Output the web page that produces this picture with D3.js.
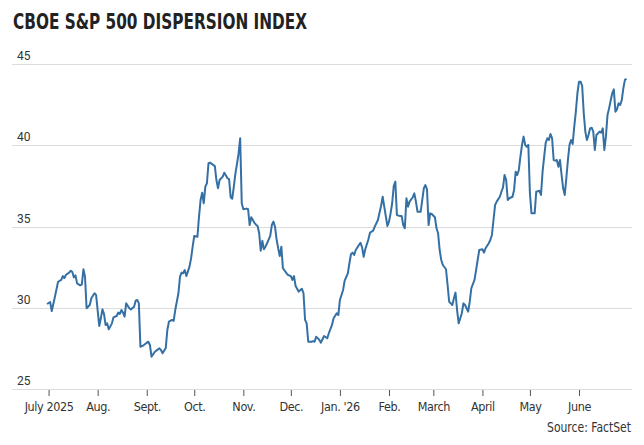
<!DOCTYPE html>
<html>
<head>
<meta charset="utf-8">
<script src="https://cdn.jsdelivr.net/npm/d3@7"></script>
<style>
    body { margin: 0; background: #fff; }
    svg { display: block; }
    .title { font-family: "DejaVu Sans Condensed", Roboto, sans-serif; font-weight: bold; font-size: 21px; fill: #222; }
    .ylabel { font-family: Roboto, "Liberation Sans", sans-serif; font-size: 12px; fill: #333; }
    .xlabel { font-family: "DejaVu Sans Condensed", Roboto, sans-serif; font-size: 12.5px; letter-spacing: -0.4px; fill: #333; }
    .source { font-family: "DejaVu Sans Condensed", Roboto, sans-serif; font-size: 14px; fill: #333; }
</style>
</head>
<body>
<svg id="chart"></svg>
<script>
var title = "CBOE S&P 500 DISPERSION INDEX";
var source = "Source: FactSet";

var yTicks = [25, 30, 35, 40, 45];

var monthTicks = ["2025-07-01", "2025-08-01", "2025-09-01", "2025-10-01", "2025-11-01", "2025-12-01",
    "2026-01-01", "2026-02-01", "2026-03-01", "2026-04-01", "2026-05-01", "2026-06-01"];
var monthLabels = ["July 2025", "Aug.", "Sept.", "Oct.", "Nov.", "Dec.",
    "Jan. '26", "Feb.", "March", "April", "May", "June"];

// readings, one per traced point
var dates = [
    "2025-06-30", "2025-07-02", "2025-07-03", "2025-07-05", "2025-07-07", "2025-07-09", "2025-07-10", "2025-07-11",
    "2025-07-12", "2025-07-14", "2025-07-15", "2025-07-16", "2025-07-17", "2025-07-18", "2025-07-19", "2025-07-21",
    "2025-07-22", "2025-07-23", "2025-07-24", "2025-07-25", "2025-07-27", "2025-07-28", "2025-07-30", "2025-07-31",
    "2025-08-02", "2025-08-03", "2025-08-04", "2025-08-05", "2025-08-06", "2025-08-07", "2025-08-08", "2025-08-10",
    "2025-08-11", "2025-08-13", "2025-08-14", "2025-08-15", "2025-08-16", "2025-08-17", "2025-08-18", "2025-08-19",
    "2025-08-21", "2025-08-22", "2025-08-24", "2025-08-25", "2025-08-26", "2025-08-27", "2025-08-28", "2025-08-30",
    "2025-09-01", "2025-09-02", "2025-09-03", "2025-09-04", "2025-09-06", "2025-09-07", "2025-09-09", "2025-09-10",
    "2025-09-11", "2025-09-13", "2025-09-14", "2025-09-15", "2025-09-17", "2025-09-18", "2025-09-19", "2025-09-21",
    "2025-09-22", "2025-09-23", "2025-09-24", "2025-09-25", "2025-09-26", "2025-09-28", "2025-09-29", "2025-09-30",
    "2025-10-01", "2025-10-03", "2025-10-04", "2025-10-05", "2025-10-06", "2025-10-07", "2025-10-08", "2025-10-09",
    "2025-10-10", "2025-10-11", "2025-10-12", "2025-10-14", "2025-10-15", "2025-10-16", "2025-10-17", "2025-10-19",
    "2025-10-20", "2025-10-22", "2025-10-23", "2025-10-24", "2025-10-25", "2025-10-26", "2025-10-27", "2025-10-28",
    "2025-10-29", "2025-10-30", "2025-10-31", "2025-11-01", "2025-11-03", "2025-11-04", "2025-11-05", "2025-11-06",
    "2025-11-07", "2025-11-08", "2025-11-09", "2025-11-10", "2025-11-11", "2025-11-12", "2025-11-13", "2025-11-14",
    "2025-11-15", "2025-11-16", "2025-11-18", "2025-11-19", "2025-11-20", "2025-11-21", "2025-11-22", "2025-11-23",
    "2025-11-24", "2025-11-25", "2025-11-26", "2025-11-28", "2025-11-29", "2025-12-01", "2025-12-02", "2025-12-03",
    "2025-12-04", "2025-12-06", "2025-12-07", "2025-12-08", "2025-12-09", "2025-12-10", "2025-12-11", "2025-12-12",
    "2025-12-14", "2025-12-15", "2025-12-16", "2025-12-17", "2025-12-19", "2025-12-20", "2025-12-21", "2025-12-22",
    "2025-12-24", "2025-12-25", "2025-12-27", "2025-12-28", "2025-12-30", "2025-12-31", "2026-01-01", "2026-01-03",
    "2026-01-04", "2026-01-06", "2026-01-07", "2026-01-08", "2026-01-09", "2026-01-10", "2026-01-11", "2026-01-13",
    "2026-01-14", "2026-01-15", "2026-01-16", "2026-01-17", "2026-01-19", "2026-01-20", "2026-01-22", "2026-01-23",
    "2026-01-25", "2026-01-26", "2026-01-27", "2026-01-28", "2026-01-29", "2026-01-31", "2026-02-01", "2026-02-02",
    "2026-02-03", "2026-02-04", "2026-02-05", "2026-02-06", "2026-02-08", "2026-02-09", "2026-02-10", "2026-02-11",
    "2026-02-12", "2026-02-13", "2026-02-14", "2026-02-16", "2026-02-17", "2026-02-18", "2026-02-19", "2026-02-21",
    "2026-02-22", "2026-02-23", "2026-02-24", "2026-02-25", "2026-02-26", "2026-02-27", "2026-02-28", "2026-03-02",
    "2026-03-03", "2026-03-04", "2026-03-05", "2026-03-06", "2026-03-07", "2026-03-09", "2026-03-10", "2026-03-11",
    "2026-03-12", "2026-03-13", "2026-03-14", "2026-03-15", "2026-03-16", "2026-03-17", "2026-03-19", "2026-03-20",
    "2026-03-21", "2026-03-22", "2026-03-23", "2026-03-24", "2026-03-25", "2026-03-27", "2026-03-28", "2026-03-29",
    "2026-03-30", "2026-04-01", "2026-04-02", "2026-04-03", "2026-04-05", "2026-04-06", "2026-04-07", "2026-04-08",
    "2026-04-09", "2026-04-10", "2026-04-12", "2026-04-13", "2026-04-14", "2026-04-15", "2026-04-16", "2026-04-17",
    "2026-04-18", "2026-04-20", "2026-04-21", "2026-04-22", "2026-04-23", "2026-04-24", "2026-04-25", "2026-04-26",
    "2026-04-27", "2026-04-28", "2026-04-29", "2026-04-30", "2026-05-01", "2026-05-02", "2026-05-03", "2026-05-04",
    "2026-05-05", "2026-05-07", "2026-05-08", "2026-05-09", "2026-05-10", "2026-05-11", "2026-05-12", "2026-05-13",
    "2026-05-14", "2026-05-15", "2026-05-16", "2026-05-17", "2026-05-18", "2026-05-19", "2026-05-20", "2026-05-21",
    "2026-05-22", "2026-05-23", "2026-05-24", "2026-05-25", "2026-05-26", "2026-05-27", "2026-05-28", "2026-05-29",
    "2026-05-30", "2026-05-31", "2026-06-01", "2026-06-02", "2026-06-03", "2026-06-04", "2026-06-05", "2026-06-06",
    "2026-06-07", "2026-06-08", "2026-06-09", "2026-06-10", "2026-06-11", "2026-06-12", "2026-06-14", "2026-06-15",
    "2026-06-16", "2026-06-17", "2026-06-18", "2026-06-19", "2026-06-20", "2026-06-21", "2026-06-22", "2026-06-23",
    "2026-06-24", "2026-06-25", "2026-06-26", "2026-06-27", "2026-06-28", "2026-06-29", "2026-06-30", "2026-07-01"
];

var values = [
    30.23, 30.35, 29.80, 30.68, 31.60, 31.71, 31.95, 31.83,
    32.03, 32.16, 32.28, 32.20, 31.87, 31.99, 31.50, 31.38,
    31.44, 32.37, 31.91, 29.97, 30.17, 30.58, 30.89, 30.79,
    28.88, 29.35, 29.90, 29.62, 28.94, 29.04, 28.67, 29.04,
    29.41, 29.49, 29.70, 29.62, 29.86, 29.70, 29.45, 30.27,
    29.97, 29.90, 30.06, 30.43, 30.48, 30.27, 27.60, 27.69,
    27.85, 27.91, 27.71, 26.99, 27.28, 27.36, 27.50, 27.40,
    27.20, 27.52, 28.63, 29.14, 29.25, 29.20, 29.86, 30.89,
    31.91, 32.16, 32.12, 32.32, 31.95, 32.53, 33.04, 33.76,
    34.42, 34.37, 35.60, 36.63, 37.08, 36.43, 37.45, 37.66,
    38.89, 38.93, 38.85, 38.72, 37.86, 37.35, 37.86, 38.07,
    38.31, 37.97, 37.91, 36.80, 36.71, 37.45, 38.27, 38.85,
    39.50, 40.43, 36.43, 36.06, 36.10, 36.06, 35.09, 35.57,
    35.40, 35.23, 35.11, 35.03, 34.58, 33.51, 34.12, 33.60,
    33.76, 33.97, 34.42, 35.09, 35.30, 34.99, 34.21, 33.66,
    33.18, 33.76, 32.43, 32.16, 32.03, 31.95, 31.71, 31.95,
    31.34, 30.99, 31.09, 31.17, 30.89, 29.25, 29.04, 27.91,
    27.91, 27.95, 27.91, 28.22, 28.02, 27.85, 28.06, 28.26,
    28.12, 28.43, 28.94, 29.35, 29.66, 29.55, 30.48, 31.09,
    31.67, 32.12, 32.74, 33.31, 33.39, 33.25, 33.55, 33.86,
    34.00, 33.72, 33.14, 33.60, 34.21, 34.62, 34.74, 34.99,
    35.40, 35.85, 36.26, 36.83, 36.22, 35.03, 35.30, 35.81,
    36.43, 37.49, 37.76, 35.70, 35.64, 35.64, 35.09, 34.89,
    36.74, 36.22, 36.53, 36.80, 37.04, 36.53, 35.91, 35.91,
    36.63, 37.35, 37.55, 37.29, 35.09, 35.81, 35.77, 35.57,
    34.89, 34.58, 33.55, 32.94, 32.63, 32.37, 31.40, 30.37,
    30.27, 30.17, 30.58, 30.93, 29.86, 29.04, 29.66, 30.27,
    30.17, 29.97, 29.76, 30.37, 31.20, 31.71, 32.32, 32.94,
    33.55, 33.60, 33.39, 33.66, 33.97, 34.17, 34.48, 35.40,
    36.32, 36.53, 36.83, 37.14, 37.41, 38.17, 37.86, 36.63,
    36.74, 36.83, 37.25, 38.37, 38.17, 38.48, 39.30, 40.02,
    40.53, 40.02, 39.91, 40.02, 37.04, 35.81, 35.81, 35.81,
    37.14, 37.20, 36.94, 38.37, 39.30, 40.16, 40.43, 40.32,
    40.69, 40.43, 39.09, 39.05, 39.09, 38.68, 39.09, 38.17,
    37.35, 36.94, 37.97, 39.09, 40.02, 40.32, 40.08, 41.14,
    42.06, 43.20, 43.91, 43.91, 43.65, 41.97, 40.84, 40.32,
    40.63, 41.04, 41.08, 40.84, 39.71, 40.63, 40.84, 40.77,
    41.04, 39.71, 40.53, 41.86, 42.27, 42.74, 43.20, 43.44,
    42.06, 42.21, 42.58, 42.48, 42.78, 43.50, 44.02, 44.08
];

var width = 644, height = 445;
var gridLeft = 12, gridRight = 632;
var plotLeft = 47, plotRight = 626.5;
var plotTop = 64, plotBottom = 389;

var parse = d3.utcParse("%Y-%m-%d");
var points = dates.map(function(d, i) {
    return { date: parse(d), value: values[i] };
});

var svg = d3.select("#chart").attr("width", width).attr("height", height);

var x = d3.scaleUtc()
    .domain(d3.extent(points, function(d) { return d.date; }))
    .range([plotLeft, plotRight]);

var y = d3.scaleLinear()
    .domain([25, 45])
    .range([plotBottom, plotTop]);

svg.append("text")
    .attr("class", "title")
    .attr("x", 13)
    .attr("y", 29)
    .attr("textLength", 294)
    .attr("lengthAdjust", "spacingAndGlyphs")
    .text(title);

// horizontal grid with labels sitting above each line
var grid = svg.append("g");
grid.selectAll("line").data(yTicks).enter().append("line")
    .attr("x1", gridLeft)
    .attr("x2", gridRight)
    .attr("y1", function(d) { return Math.round(y(d)) + 0.5; })
    .attr("y2", function(d) { return Math.round(y(d)) + 0.5; })
    .attr("stroke", "#dcdcdc")
    .attr("stroke-width", 1);
grid.selectAll("text").data(yTicks).enter().append("text")
    .attr("class", "ylabel")
    .attr("x", 17)
    .attr("y", function(d) { return y(d) - 4; })
    .text(function(d) { return d; });

// month ticks
var xAxis = d3.axisBottom(x)
    .tickValues(monthTicks.map(parse))
    .tickSize(6)
    .tickFormat(function(d, i) { return monthLabels[i]; });

var axisG = svg.append("g")
    .attr("transform", "translate(0," + (plotBottom + 1) + ")")
    .call(xAxis);
axisG.select(".domain").remove();
axisG.selectAll(".tick line").attr("stroke", "#555");
axisG.selectAll(".tick text")
    .attr("class", "xlabel")
    .attr("y", 21)
    .attr("dy", null);

var line = d3.line()
    .x(function(d) { return x(d.date); })
    .y(function(d) { return y(d.value); });

svg.append("path")
    .datum(points)
    .attr("d", line)
    .attr("fill", "none")
    .attr("stroke", "#3570a5")
    .attr("stroke-width", 2)
    .attr("stroke-linejoin", "round");

svg.append("text")
    .attr("class", "source")
    .attr("x", 631)
    .attr("y", 432)
    .attr("text-anchor", "end")
    .attr("textLength", 84)
    .attr("lengthAdjust", "spacingAndGlyphs")
    .text(source);
</script>
</body>
</html>
